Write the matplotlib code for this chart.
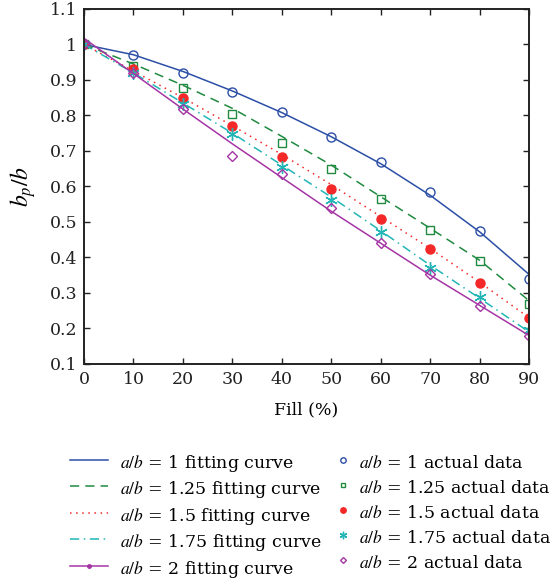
import matplotlib
matplotlib.use("Agg")
import matplotlib.pyplot as plt
from matplotlib.lines import Line2D
import numpy as np

plt.rcParams['font.family'] = 'serif'
plt.rcParams['font.serif'] = ['DejaVu Serif']
plt.rcParams['mathtext.fontset'] = 'stix'

fill = [0, 10, 20, 30, 40, 50, 60, 70, 80, 90]
ratios = ['1', '1.25', '1.5', '1.75', '2']

actual = {
    '1':    [1.0, 0.970, 0.920, 0.867, 0.809, 0.739, 0.668, 0.584, 0.474, 0.339],
    '1.25': [1.0, 0.939, 0.878, 0.803, 0.723, 0.650, 0.565, 0.478, 0.389, 0.268],
    '1.5':  [1.0, 0.931, 0.850, 0.770, 0.683, 0.592, 0.509, 0.423, 0.328, 0.229],
    '1.75': [1.0, 0.919, 0.831, 0.749, 0.656, 0.562, 0.471, 0.370, 0.289, 0.197],
    '2':    [1.0, 0.920, 0.819, 0.685, 0.635, 0.540, 0.442, 0.353, 0.263, 0.180],
}
# fitted curves sampled at the same fill values
fitted = {
    '1':    [1.0, 0.971, 0.924, 0.869, 0.808, 0.740, 0.664, 0.575, 0.472, 0.352],
    '1.25': [1.0, 0.945, 0.885, 0.820, 0.741, 0.660, 0.571, 0.482, 0.392, 0.278],
    '1.5':  [1.0, 0.925, 0.850, 0.771, 0.690, 0.605, 0.515, 0.425, 0.330, 0.230],
    '1.75': [1.0, 0.920, 0.835, 0.750, 0.660, 0.570, 0.475, 0.378, 0.285, 0.190],
    '2':    [1.017, 0.918, 0.818, 0.720, 0.625, 0.530, 0.440, 0.350, 0.265, 0.180],
}

colors = ['#2c4fa6', '#1f8a40', '#f42828', '#22b5b5', '#a535a5']
line_styles = ['-', (0, (6, 4)), (0, (1, 3)), (0, (6, 3, 1, 3)), '-']
markers = ['o', 's', 'o', (6, 2, 0), 'D']
fills = ['none', 'none', 'full', 'full', 'none']
msizes = [6.5, 5.5, 6.5, 9, 5]

fig = plt.figure(figsize=(5.6, 5.82), dpi=100)
ax = fig.add_axes([0.15, 0.3746, 0.795, 0.61])

line_handles = []
mark_handles = []
for r, c, ls, m, f, ms in zip(ratios, colors, line_styles, markers, fills, msizes):
    lw = 1.1
    ax.plot(fill, fitted[r], color=c, ls=ls, lw=lw)
    if r == '2':
        h = Line2D([], [], color=c, ls=ls, lw=lw, marker='.', ms=5,
                   markevery=[1], label='$a/b$ = %s fitting curve' % r)
    else:
        h = Line2D([], [], color=c, ls=ls, lw=lw, label='$a/b$ = %s fitting curve' % r)
    line_handles.append(h)
    mfc = c if f == 'full' else 'none'
    ax.plot(fill, actual[r], ls='none', marker=m, ms=ms, mfc=mfc, mec=c, mew=1.0)
    mark_handles.append(Line2D([], [], ls='none', marker=m, ms=ms * 0.6, mfc=mfc,
                               mec=c, mew=1.0,
                               label='$a/b$ = %s actual data' % r))

ax.set_xlim(0, 90)
ax.set_ylim(0.1, 1.1)
ax.set_xticks(np.arange(0, 91, 10))
ax.set_yticks(np.arange(0.1, 1.11, 0.1))
ax.set_yticklabels(['0.1', '0.2', '0.3', '0.4', '0.5', '0.6', '0.7', '0.8', '0.9', '1', '1.1'])
ax.tick_params(direction='in', top=True, right=True, length=4, width=1,
               labelsize=12.5, colors='#222222', pad=5)
for s in ax.spines.values():
    s.set_linewidth(1.4)
    s.set_color('#222222')
ax.set_xlabel('Fill (%)', fontsize=12.5, labelpad=10)
ax.set_ylabel('$b_p/b$', fontsize=17, labelpad=8)

common = dict(loc='upper left', frameon=False, fontsize=12.5, handleheight=1.45,
              labelspacing=0.26, borderaxespad=0, borderpad=0)
leg1 = fig.legend(handles=line_handles, bbox_to_anchor=(0.125, 0.224),
                  handlelength=2.2, handletextpad=0.7, **common)
leg2 = fig.legend(handles=mark_handles, bbox_to_anchor=(0.6, 0.224),
                  handlelength=0.8, handletextpad=0.5, **common)

fig.savefig('out.png', dpi=100)
